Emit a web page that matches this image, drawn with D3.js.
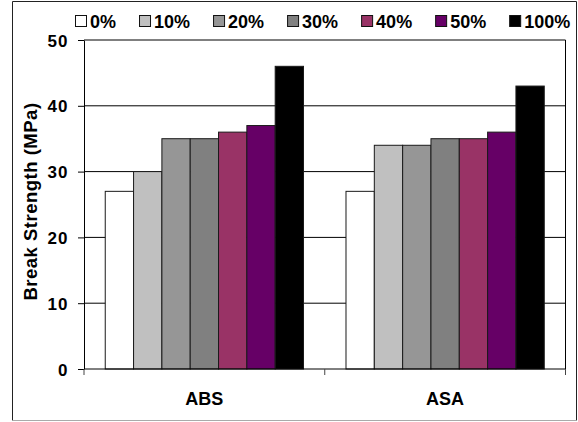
<!DOCTYPE html>
<html>
<head>
<meta charset="utf-8">
<script src="https://cdn.jsdelivr.net/npm/d3@7"></script>
<style>
  html, body { margin: 0; padding: 0; background: #fff; }
  svg text { font-family: "Liberation Sans", Arial, sans-serif; font-weight: bold; fill: #000; }
</style>
</head>
<body>
<svg id="chart" width="578" height="422"></svg>
<script>
// Materials on the x axis
const categories = ["ABS", "ASA"];
// Blend ratios, one bar each per material
const seriesNames = ["0%", "10%", "20%", "30%", "40%", "50%", "100%"];
const seriesColors = ["#ffffff", "#c0c0c0", "#969696", "#808080", "#993366", "#660066", "#000000"];
// Break strength (MPa), indexed [series][category]
const absValues = [27, 30, 35, 35, 36, 37, 46];
const asaValues = [27, 34, 34, 35, 35, 36, 43];
const yTicks = [0, 10, 20, 30, 40, 50];
const yTitle = "Break Strength (MPa)";

const svg = d3.select("#chart");

// Plot area bounds
const plot = { left: 84, right: 565.5, top: 40, bottom: 369 };

// Outer frame
const frame = svg.append("g");
frame.append("line").attr("x1", 12.5).attr("x2", 12.5).attr("y1", 1.5).attr("y2", 420.5).attr("stroke", "#222");
frame.append("line").attr("x1", 12.5).attr("x2", 576.5).attr("y1", 1.5).attr("y2", 1.5).attr("stroke", "#222");
frame.append("line").attr("x1", 576.5).attr("x2", 576.5).attr("y1", 1.5).attr("y2", 420.5).attr("stroke", "#222");
frame.append("line").attr("x1", 12.5).attr("x2", 576.5).attr("y1", 420.5).attr("y2", 420.5).attr("stroke", "#aaa");

const y = d3.scaleLinear().domain([0, 50]).range([plot.bottom, plot.top]);
const x0 = d3.scaleBand().domain(categories).range([plot.left, plot.right]).padding(0);
const x1 = d3.scaleBand().domain(seriesNames).range([0, x0.bandwidth()])
  .paddingInner(0).paddingOuter(0.75);

// Horizontal gridlines
svg.append("g").selectAll("line").data(yTicks.filter(t => t > 0))
  .join("line")
  .attr("x1", plot.left).attr("x2", plot.right)
  .attr("y1", d => y(d)).attr("y2", d => y(d))
  .attr("stroke", "#000").attr("stroke-width", 1);

// Right edge of the plot area
svg.append("line")
  .attr("x1", plot.right).attr("x2", plot.right)
  .attr("y1", plot.top).attr("y2", plot.bottom)
  .attr("stroke", "#000");

// Bars
const rows = categories.map((c, ci) => ({
  cat: c,
  vals: seriesNames.map((s, si) => ({ s, si, v: (ci === 0 ? absValues : asaValues)[si] }))
}));
const groups = svg.append("g").selectAll("g").data(rows).join("g")
  .attr("transform", d => `translate(${x0(d.cat)},0)`);
groups.selectAll("rect").data(d => d.vals).join("rect")
  .attr("x", d => x1(d.s))
  .attr("y", d => y(d.v))
  .attr("width", x1.bandwidth())
  .attr("height", d => y(0) - y(d.v))
  .attr("fill", d => seriesColors[d.si])
  .attr("stroke", "#1a1a1a").attr("stroke-width", 1);

// Y axis
const yAxis = svg.append("g")
  .attr("transform", `translate(${plot.left},0)`)
  .call(d3.axisLeft(y).tickValues(yTicks).tickSize(6).tickPadding(16).tickSizeOuter(0));
yAxis.select(".domain").attr("stroke", "#000");
yAxis.selectAll(".tick line").attr("stroke", "#000");
yAxis.selectAll("text").attr("font-size", 17).attr("font-family", null).attr("fill", "#000")
  .attr("letter-spacing", "1px").attr("dy", "0.36em")
  .attr("x", -15.5);

// X axis: ticks sit on category boundaries
const xAxis = svg.append("g").attr("transform", `translate(0,${plot.bottom})`);
xAxis.append("line").attr("x1", plot.left).attr("x2", plot.right).attr("y1", 0).attr("y2", 0).attr("stroke", "#000");
const boundaries = categories.map(c => x0(c)).concat([x0(categories[categories.length - 1]) + x0.bandwidth()]);
xAxis.selectAll("line.tk").data(boundaries).join("line").attr("class", "tk")
  .attr("x1", d => d).attr("x2", d => d).attr("y1", 0).attr("y2", 6).attr("stroke", "#444");
xAxis.selectAll("text").data(categories).join("text")
  .attr("x", d => x0(d) + x0.bandwidth() / 2)
  .attr("y", 36)
  .attr("text-anchor", "middle")
  .attr("font-size", 18)
  .text(d => d);

// Y axis title
svg.append("text")
  .attr("transform", `translate(37,${(plot.top + plot.bottom) / 2 - 3}) rotate(-90)`)
  .attr("text-anchor", "middle")
  .attr("font-size", 18.5)
  .attr("letter-spacing", "0.5px")
  .text(yTitle);

// Legend
const legend = svg.append("g");
let lx = 75;
seriesNames.forEach((name, i) => {
  legend.append("rect")
    .attr("x", lx + 0.5).attr("y", 15.5).attr("width", 11).attr("height", 11)
    .attr("fill", seriesColors[i]).attr("stroke", "#111");
  const t = legend.append("text")
    .attr("x", lx + 15).attr("y", 27.5)
    .attr("font-size", 18)
    .text(name);
  lx += 15 + t.node().getComputedTextLength() + 23;
});
</script>
</body>
</html>
